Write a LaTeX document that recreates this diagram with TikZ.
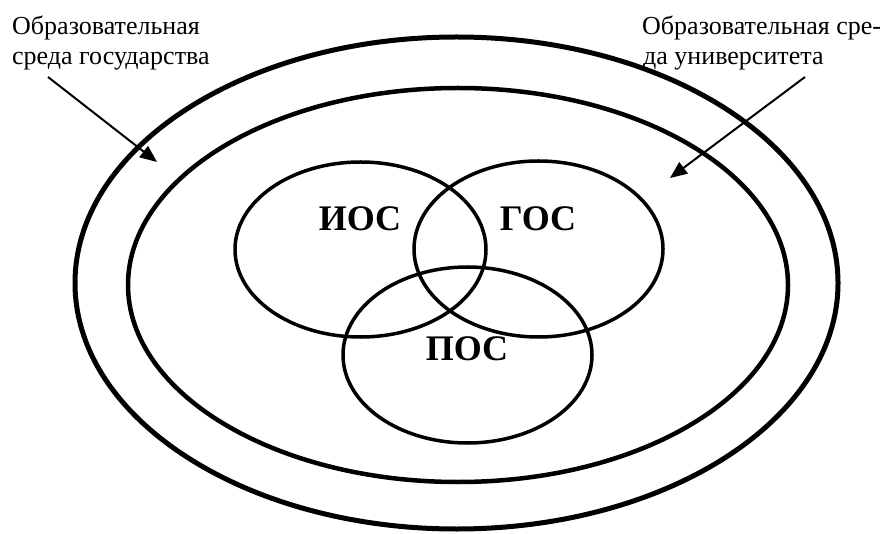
\documentclass[tikz,border=0pt]{standalone}
\usepackage{fontspec}
\setmainfont{Liberation Serif}
\usetikzlibrary{arrows.meta}
\begin{document}
\begin{tikzpicture}[x=1pt,y=-1pt,
  lbl/.style={anchor=base west,inner sep=0pt,font=\fontsize{26}{30}\selectfont},
  venn/.style={line width=3.5pt},
  ptr/.style={line width=2pt,-{Triangle[length=17pt,width=14pt]}},
  abbr/.style={anchor=base,inner sep=0pt,font=\fontsize{36}{40}\selectfont\bfseries}]
\useasboundingbox (0,0) rectangle (888,534);
% environment ellipses
\draw[line width=5pt] (456.5,283) ellipse [x radius=381.5, y radius=246];
\draw[line width=4.5pt] (458,285) ellipse [x radius=330, y radius=197];
% Venn ellipses
\draw[venn] (360.5,249.5) ellipse [x radius=125.5, y radius=87.5];
\draw[venn] (538.5,249) ellipse [x radius=124.5, y radius=88];
\draw[venn] (467.5,355) ellipse [x radius=124.5, y radius=88];
% labels
\node[abbr] (ios) at (360,231) {ИОС};
\node[abbr] (gos) at (538,231) {ГОС};
\node[abbr] (pos) at (467,360) {ПОС};
\node[lbl] (gl1) at (12,35) {Образовательная};
\node[lbl] (gl2) at (12,65) {среда государства};
\node[lbl] (ul1) at (642,35) {Образовательная сре-};
\node[lbl] (ul2) at (643,65) {да университета};
% arrows
\coordinate (gs) at (48,77);
\coordinate (gt) at (157,162);
\coordinate (us) at (805,77);
\coordinate (ut) at (670,178);
\draw[ptr] (gs) -- (gt);
\draw[ptr] (us) -- (ut);
\end{tikzpicture}
\end{document}
